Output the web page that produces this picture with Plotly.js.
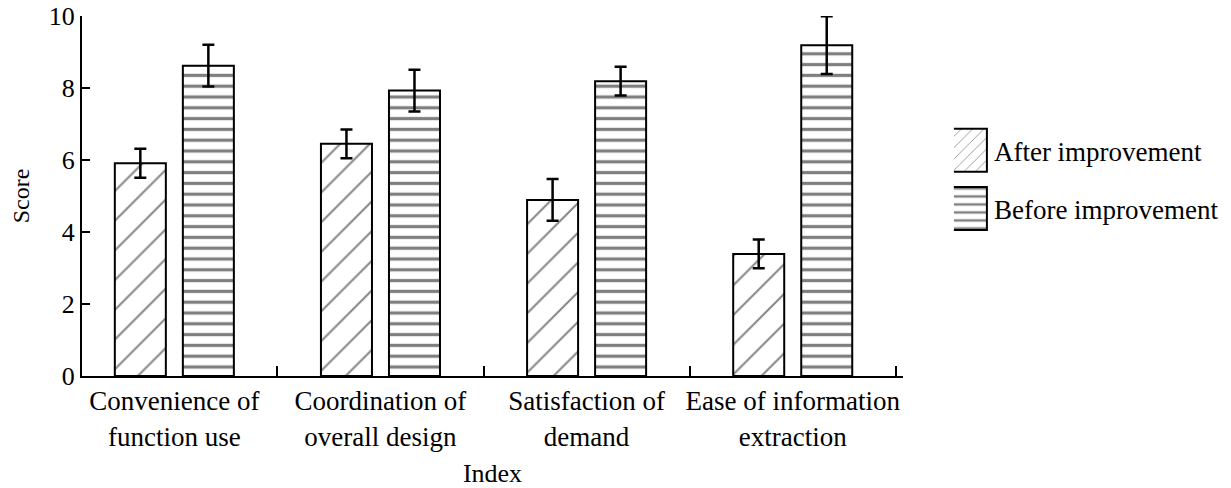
<!DOCTYPE html>
<html>
<head>
<meta charset="utf-8">
<script src="https://cdn.plot.ly/plotly-3.0.1.min.js"></script>
<style>
  html, body { margin: 0; padding: 0; background: #fff; }
  #chart { width: 1231px; height: 488px; }
</style>
</head>
<body>
<div id="chart"></div>
<script>
// ---- data ----
const categories = [
  "Convenience of<br>function use",
  "Coordination of<br>overall design",
  "Satisfaction of<br>demand",
  "Ease of information<br>extraction"
];
const seriesNames = ["After improvement", "Before improvement"];
const afterValues  = [5.91, 6.45, 4.89, 3.39];
const afterErrors  = [0.40, 0.40, 0.58, 0.40];
const beforeValues = [8.62, 7.93, 8.19, 9.19];
const beforeErrors = [0.58, 0.58, 0.40, 0.80];
const yTickVals = [0, 2, 4, 6, 8, 10];

const FONT = "Liberation Serif, 'Times New Roman', Times, serif";

const errStyle = { type: "data", visible: true, color: "#000", thickness: 2.5, width: 6 };

const traces = [
  {
    type: "bar", name: seriesNames[0], x: categories, y: afterValues,
    legendgroup: "a", cliponaxis: false,
    error_y: Object.assign({ array: afterErrors }, errStyle),
    marker: {
      color: "#fff",
      line: { color: "#000", width: 2 },
      pattern: { shape: "/", size: 21, solidity: 0.1, fgcolor: "#111", bgcolor: "#fff", fillmode: "overlay" }
    }
  },
  {
    type: "bar", name: seriesNames[1], x: categories, y: beforeValues,
    legendgroup: "b", cliponaxis: false,
    error_y: Object.assign({ array: beforeErrors }, errStyle),
    marker: {
      color: "#fff",
      line: { color: "#000", width: 2 },
      pattern: { shape: "-", size: 10.8, solidity: 0.3, fgcolor: "#000", bgcolor: "#fff", fillmode: "overlay" }
    }
  }
];

const layout = {
  width: 1231, height: 488,
  margin: { l: 82, r: 328, t: 16, b: 112, autoexpand: false },
  paper_bgcolor: "#fff", plot_bgcolor: "#fff",
  font: { family: FONT, size: 26, color: "#000" },
  barmode: "group", bargap: 0.34, bargroupgap: 0.25,
  showlegend: true,
  legend: {
    x: 1.062, xanchor: "left", y: 0.545, yanchor: "middle",
    font: { family: FONT, size: 27, color: "#000" },
    tracegroupgap: 20, traceorder: "grouped",
    bgcolor: "rgba(0,0,0,0)", borderwidth: 0
  },
  xaxis: {
    type: "category", range: [-0.448, 3.535],
    showline: true, linecolor: "#000", linewidth: 2,
    ticks: "inside", tickson: "boundaries", ticklen: 10, tickwidth: 2, tickcolor: "#000",
    tickangle: 0,
    showgrid: false, zeroline: false,
    tickfont: { family: FONT, size: 27, color: "#000" },
    title: { text: "Index", font: { family: FONT, size: 26, color: "#000" }, standoff: 14 }
  },
  yaxis: {
    range: [0, 10], tickvals: yTickVals, ticktext: yTickVals.map(String),
    showline: true, linecolor: "#000", linewidth: 2,
    ticks: "inside", ticklen: 8, tickwidth: 2, tickcolor: "#000",
    showgrid: false, zeroline: false,
    tickfont: { family: FONT, size: 26, color: "#000" },
    title: { text: "Score", font: { family: FONT, size: 24, color: "#000" }, standoff: 12 }
  }
};

Plotly.newPlot("chart", traces, layout, { displayModeBar: false, staticPlot: true }).then(function (gd) {
  // enlarge legend swatches to match the reference's large boxes
  gd.querySelectorAll(".legend .traces").forEach(function (tr) {
    const txt = tr.querySelector("text.legendtext");
    const path = tr.querySelector("path.legendbar") || tr.querySelector(".legendpoints path");
    if (!txt || !path) return;
    const tb = txt.getBoundingClientRect();
    const pb = path.getBoundingClientRect();
    const cx = pb.left + pb.width / 2;
    const R = (tb.left - 7) - cx, L = R - 46;
    const T = -21.5, B = 21.5;
    path.setAttribute("d", "M" + R + "," + B + "H" + L + "V" + T + "H" + R + "Z");
    path.style.strokeWidth = "2px";
    path.style.stroke = "#000";
  });
});
</script>
</body>
</html>
